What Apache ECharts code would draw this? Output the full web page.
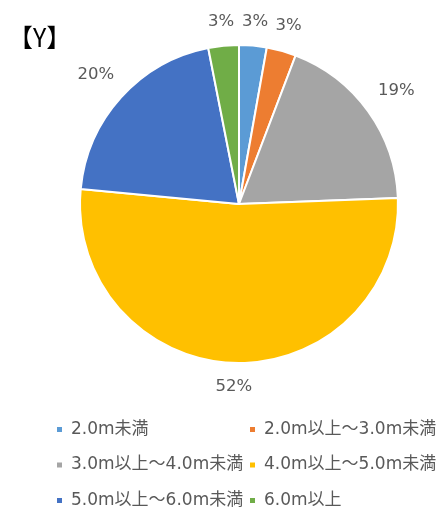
<!DOCTYPE html>
<html>
<head>
<meta charset="utf-8">
<script src="https://cdn.jsdelivr.net/npm/echarts@6/dist/echarts.min.js"></script>
<style>
  html, body { margin: 0; padding: 0; background: #fff; }
  #chart { width: 446px; height: 518px; }
</style>
</head>
<body>
<div id="chart"></div>
<script>
// 区分（時計回り、12時から）
const categories = ['2.0m未満', '2.0m以上～3.0m未満', '3.0m以上～4.0m未満', '4.0m以上～5.0m未満', '5.0m以上～6.0m未満', '6.0m以上'];
const shares = [2.8, 3.0, 18.6, 52.1, 20.4, 3.1];
const colors = ['#5B9BD5', '#ED7D31', '#A5A5A5', '#FFC000', '#4472C4', '#70AD47'];

const font = '"DejaVu Sans", "Noto Sans CJK JP", sans-serif';
const cx = 239, cy = 204, radius = 159;
const labelGap = 15;

const chart = echarts.init(document.getElementById('chart'));

const legendCommon = {
  orient: 'vertical',
  top: 421,
  padding: 0,
  itemWidth: 7,
  itemHeight: 7,
  itemGap: 18.5,
  icon: 'rect',
  selectedMode: false,
  textStyle: { color: '#595959', fontSize: 17, fontFamily: font, padding: [0, 0, 0, 3] }
};

chart.setOption({
  animation: false,
  color: colors,
  title: {
    text: '【Y】',
    left: 3,
    top: 20,
    textStyle: { color: '#000', fontSize: 25, fontWeight: 'normal', fontFamily: '"Noto Sans CJK JP", sans-serif' }
  },
  legend: [
    Object.assign({}, legendCommon, { left: 55, data: [categories[0], categories[2], categories[4]] }),
    Object.assign({}, legendCommon, { left: 248, data: [categories[1], categories[3], categories[5]] })
  ],
  series: [{
    type: 'pie',
    center: [cx, cy],
    radius: radius,
    startAngle: 90,
    clockwise: true,
    avoidLabelOverlap: false,
    itemStyle: { borderColor: '#fff', borderWidth: 2 },
    label: {
      position: 'outside',
      formatter: p => Math.round(p.value) + '%',
      color: '#595959',
      fontSize: 16.5,
      fontFamily: font
    },
    labelLine: { show: false, length: 10, length2: 0 },
    // ラベルを扇形の外側に中央揃えで置く（Excelの「外部」配置）
    labelLayout: function (params) {
      const pts = params.labelLinePoints;
      if (!pts) return {};
      const dx = pts[0][0] - cx, dy = pts[0][1] - cy;
      const len = Math.sqrt(dx * dx + dy * dy) || 1;
      const ux = dx / len, uy = dy / len;
      const w = params.labelRect.width / 2, h = params.labelRect.height / 2;
      const d = radius + labelGap + w * Math.abs(ux) + h * Math.abs(uy);
      return {
        x: cx + d * ux,
        y: cy + d * uy,
        align: 'center',
        verticalAlign: 'middle'
      };
    },
    data: categories.map((c, i) => ({ name: c, value: shares[i] }))
  }]
});
</script>
</body>
</html>
